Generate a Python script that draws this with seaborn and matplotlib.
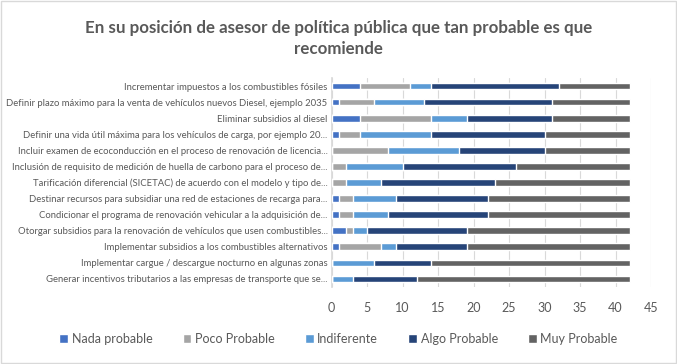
import numpy as np
import pandas as pd
import matplotlib
matplotlib.use("Agg")
import matplotlib.pyplot as plt
import seaborn as sns
from matplotlib.patches import Patch

# Data (counts per answer)
preguntas = [
    "Incrementar impuestos a los combustibles fósiles",
    "Definir plazo máximo para la venta de vehículos nuevos Diesel, ejemplo 2035",
    "Eliminar subsidios al diesel",
    "Definir una vida útil máxima para los vehículos de carga, por ejemplo 20...",
    "Incluir examen de ecoconducción en el proceso de renovación de licencia...",
    "Inclusión de requisito de medición de huella de carbono para el proceso de...",
    "Tarificación diferencial (SICETAC) de acuerdo con el modelo y tipo de...",
    "Destinar recursos para subsidiar una red de estaciones de recarga para...",
    "Condicionar el programa de renovación vehicular a la adquisición de...",
    "Otorgar subsidios para la renovación de vehículos que usen combustibles...",
    "Implementar subsidios a los combustibles alternativos",
    "Implementar cargue / descargue nocturno en algunas zonas",
    "Generar incentivos tributarios a las empresas de transporte que se...",
]
nada = [4, 1, 4, 1, 0, 0, 0, 1, 1, 2, 1, 0, 0]
poco = [7, 5, 10, 3, 8, 2, 2, 2, 2, 1, 6, 0, 0]
indiferente = [3, 7, 5, 10, 10, 8, 5, 6, 5, 2, 2, 6, 3]
algo = [18, 18, 12, 16, 12, 16, 16, 13, 14, 14, 10, 8, 9]
muy = [10, 11, 11, 12, 12, 16, 19, 20, 20, 23, 23, 28, 30]

series = ["Nada probable", "Poco Probable", "Indiferente", "Algo Probable", "Muy Probable"]
colores = ["#4472C4", "#A5A5A5", "#5B9BD5", "#264478", "#636363"]

df = pd.DataFrame({"pregunta": preguntas, "Nada probable": nada, "Poco Probable": poco,
                   "Indiferente": indiferente, "Algo Probable": algo, "Muy Probable": muy})
cum = df[series].cumsum(axis=1)

sns.set_theme(style="white")
plt.rcParams["font.family"] = ["Lato", "DejaVu Sans"]

fig = plt.figure(figsize=(6.77, 3.64), dpi=100)
ax = fig.add_axes([0.490, 0.2115, 0.4716, 0.5742])

# stacked bars: draw cumulative totals from the largest down
for s, c in zip(reversed(series), reversed(colores)):
    sns.barplot(x=cum[s], y=df["pregunta"], color=c, orient="h", width=0.42,
                ax=ax, saturation=1, zorder=3)

ax.set_xlim(0, 45)
ax.set_xticks(range(0, 46, 5))
ax.grid(axis="x", color="#D9D9D9", linewidth=0.8, zorder=0)
ax.set_xlabel("")
ax.set_ylabel("")
for sp in ["top", "right", "bottom"]:
    ax.spines[sp].set_visible(False)
ax.spines["left"].set_color("#D9D9D9")
ax.tick_params(axis="y", labelsize=6.8, labelcolor="#595959", length=0, pad=3)
ax.tick_params(axis="x", labelsize=9, labelcolor="#595959", length=0, pad=11)

fig.suptitle("En su posición de asesor de política pública que tan probable es que\nrecomiende",
             x=0.5, y=0.945, fontsize=12.2, fontweight="bold", color="#595959", linespacing=1.4)

handles = [Patch(facecolor=c, label=s) for s, c in zip(series, colores)]
fig.legend(handles=handles, loc="center", bbox_to_anchor=(0.5, 0.068), ncol=5, frameon=False,
           fontsize=9, labelcolor="#595959", handlelength=0.7, handleheight=0.7,
           handletextpad=0.3, columnspacing=2.4)

fig.patches.append(plt.Rectangle((0.001, 0.002), 0.997, 0.995, transform=fig.transFigure,
                                 fill=False, edgecolor="#D9D9D9", linewidth=1))

fig.savefig("out.png", dpi=100)
